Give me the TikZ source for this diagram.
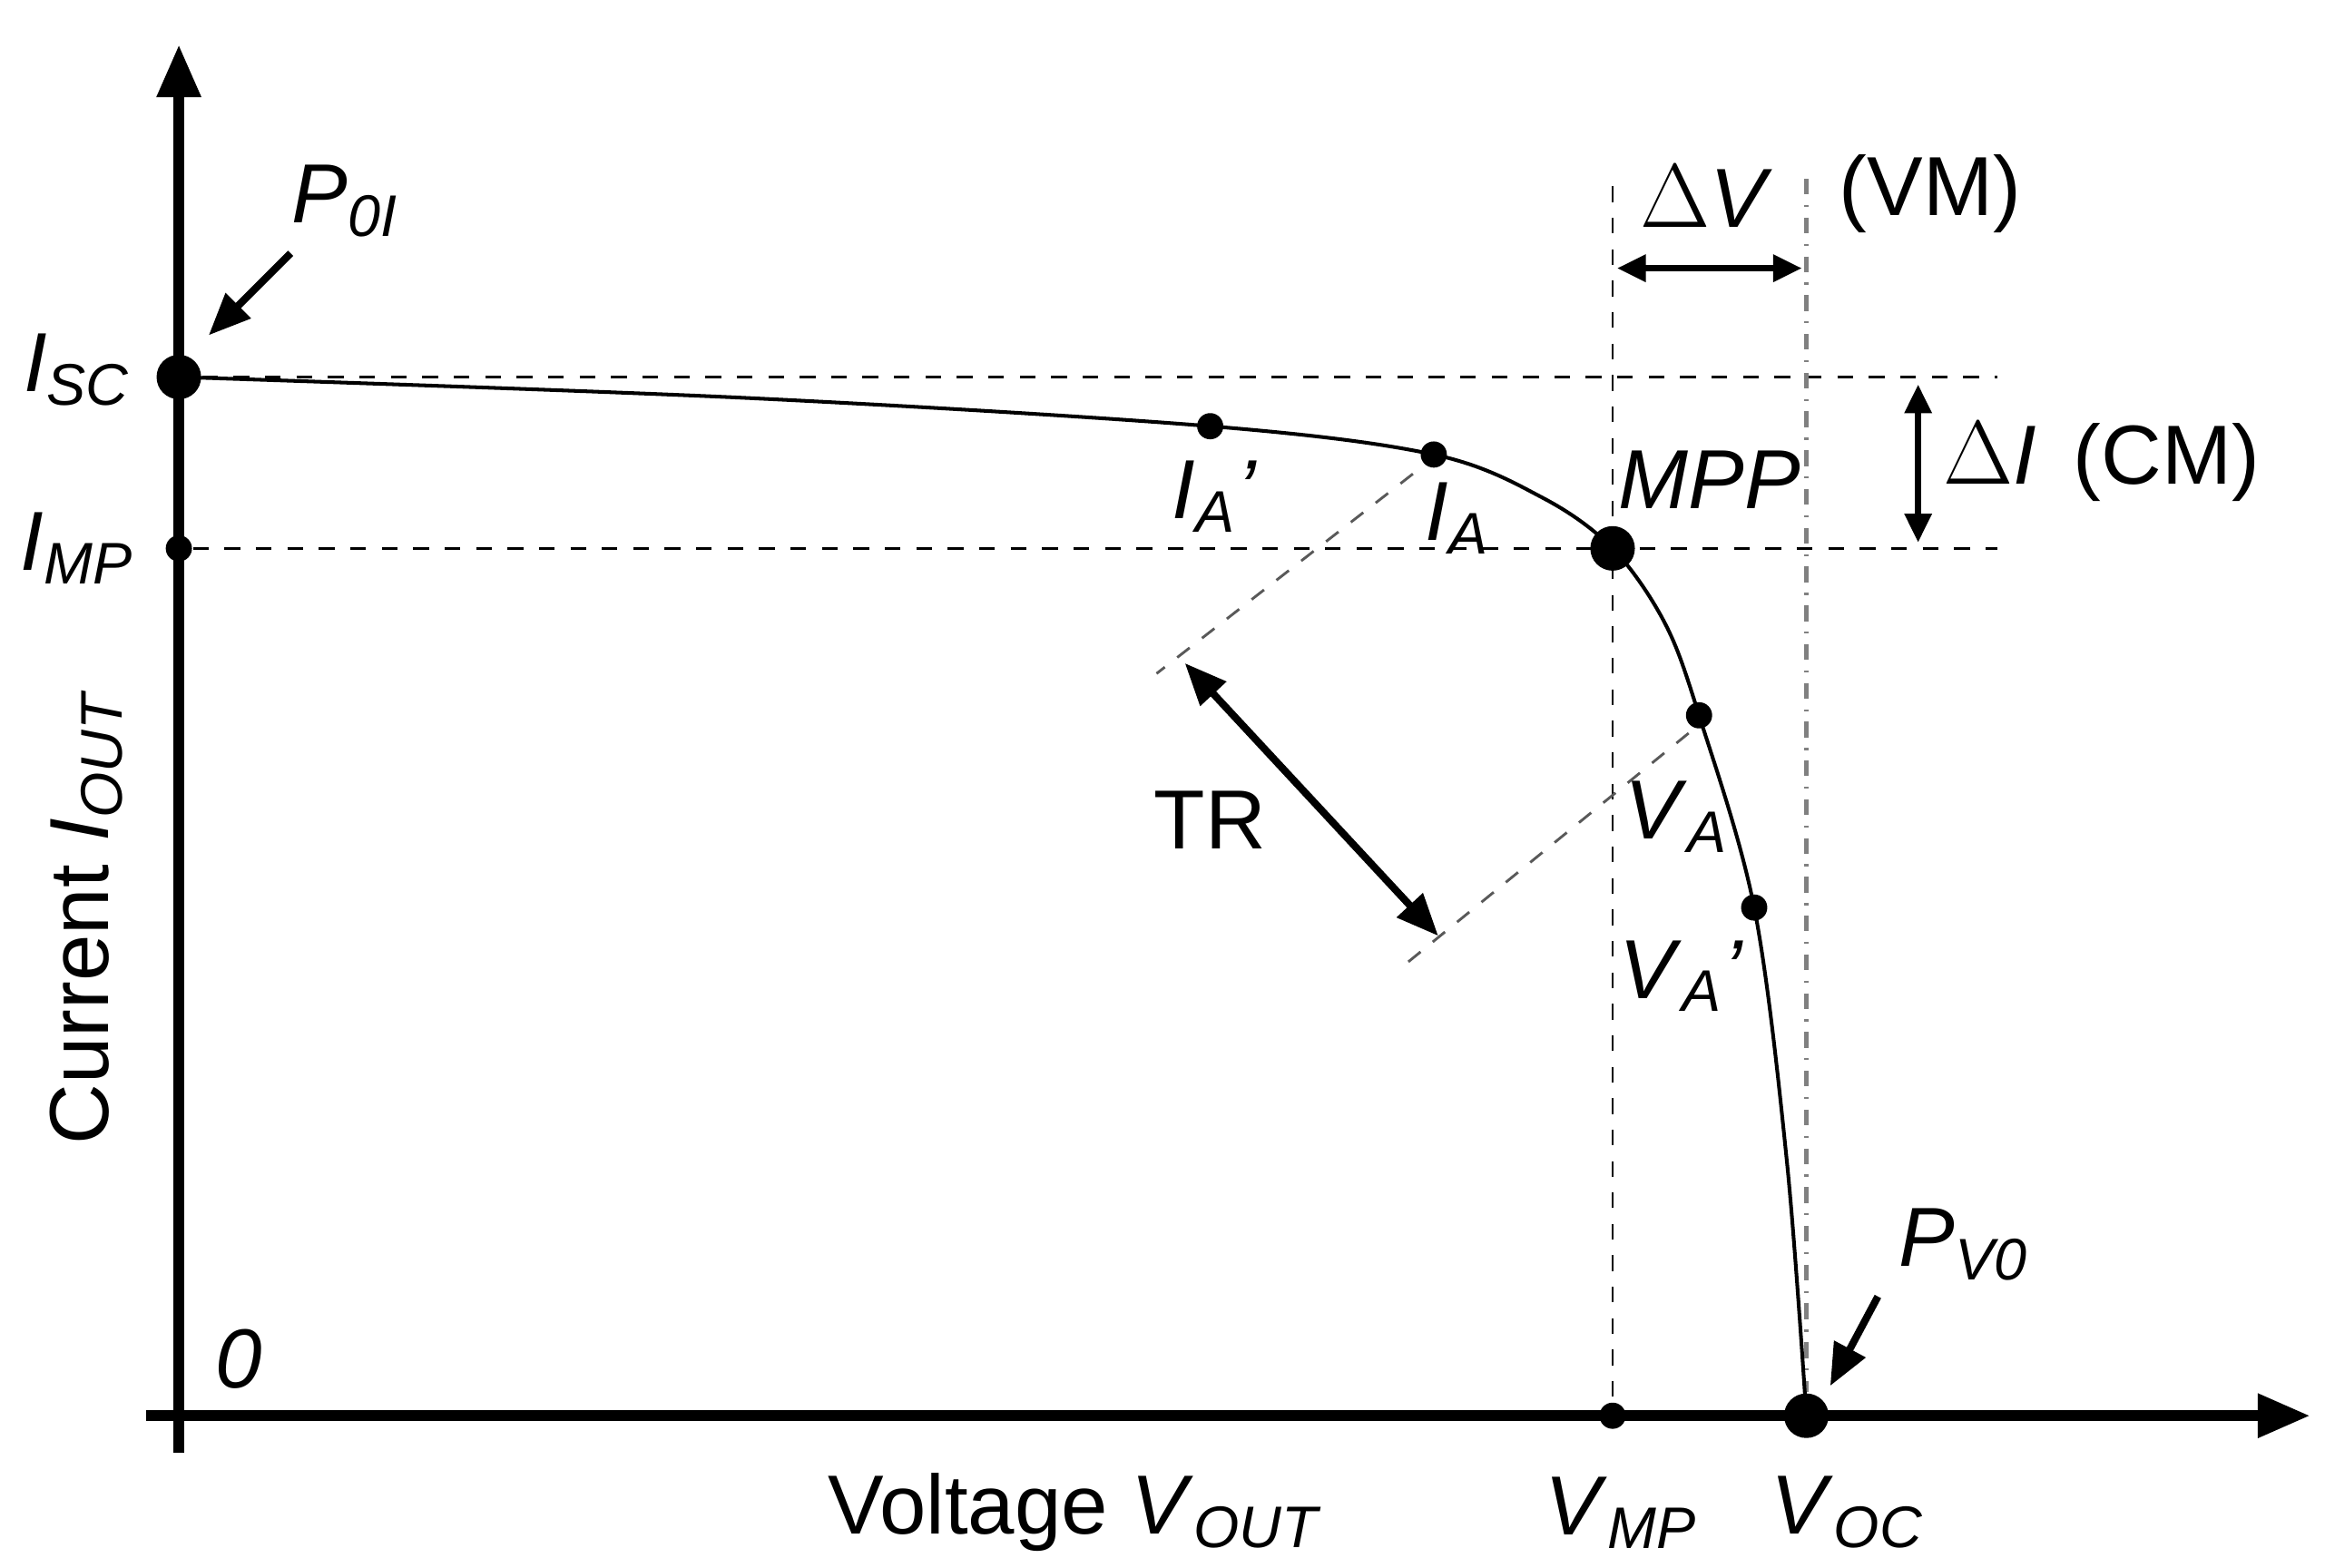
\documentclass[tikz,border=0pt]{standalone}
\usepackage{fontspec}
\setmainfont{Liberation Sans}
\usetikzlibrary{arrows.meta}
\begin{document}
\begin{tikzpicture}[x=0.01cm,y=-0.01cm,font=\fontsize{16}{18}\selectfont,
  ax/.style={line width=2pt,-{Triangle[length=10pt,width=8pt]}},
  dsh/.style={dashed,line width=0.5pt},
  bigdot/.style={circle,fill,inner sep=0pt,minimum size=8.5pt},
  smalldot/.style={circle,fill,inner sep=0pt,minimum size=5pt},
  arr/.style={line width=1.2pt,{Triangle[length=5.5pt,width=5pt]}-{Triangle[length=5.5pt,width=5pt]}}]
\useasboundingbox (0,0) rectangle (1560,1052);
\coordinate (yb) at (120,975); \coordinate (yt) at (120,30);
\coordinate (xl) at (98,950); \coordinate (xr) at (1550,950);
\draw[ax] (yb) -- (yt);
\draw[ax] (xl) -- (xr);
\coordinate (h1r) at (1340,253); \coordinate (h2r) at (1340,368);
\node[bigdot] (isc) at (120,253) {};
\node[smalldot] (imp) at (120,368) {};
\node[smalldot] (iap) at (812,286) {};
\node[smalldot] (ia) at (962,305) {};
\node[bigdot] (mpp) at (1082,368) {};
\node[smalldot] (va) at (1140,480) {};
\node[smalldot] (vap) at (1177,609) {};
\node[smalldot] (vmp) at (1082,950) {};
\node[bigdot] (voc) at (1212,950) {};
\draw[dsh] (isc) -- (h1r);
\draw[dsh] (imp) -- (h2r);
\coordinate (v1t) at (1082,125); \coordinate (v2t) at (1212,120);
\draw[dsh] (v1t) -- (vmp);
\draw[dash dot,gray,line width=0.8pt] (v2t) -- (voc);
\draw[line width=0.7pt] plot[smooth,tension=0.55] coordinates {(120,253) (500,267) (812,286) (962,305) (1035,334) (1082,368) (1117,418) (1140,480) (1177,609) (1199,780) (1212,950)};
\coordinate (dv1) at (1085,180); \coordinate (dv2) at (1209,180);
\draw[arr] (dv1) -- (dv2);
\coordinate (di1) at (1287,258); \coordinate (di2) at (1287,364);
\draw[arr] (di1) -- (di2);
\coordinate (t1a) at (948,318); \coordinate (t1b) at (776,452);
\coordinate (t2a) at (1133,492); \coordinate (t2b) at (943,647);
\draw[dashed,line width=0.5pt,gray!70!black] (t1a) -- (t1b);
\draw[dashed,line width=0.5pt,gray!70!black] (t2a) -- (t2b);
\coordinate (tr1) at (795,445); \coordinate (tr2) at (965,628);
\draw[line width=1.4pt,{Triangle[length=8pt,width=6.5pt]}-{Triangle[length=8pt,width=6.5pt]}] (tr1) -- (tr2);
\coordinate (p0a) at (195,170); \coordinate (p0b) at (140,225);
\draw[line width=1.4pt,-{Triangle[length=8pt,width=6.5pt]}] (p0a) -- (p0b);
\coordinate (pva) at (1260,870); \coordinate (pvb) at (1228,930);
\draw[line width=1.4pt,-{Triangle[length=8pt,width=6.5pt]}] (pva) -- (pvb);
\node (lp0) at (232,135) {\textit{P}\textsubscript{\textit{0I}}};
\node (lpv) at (1318,835) {\textit{P}\textsubscript{\textit{V0}}};
\node (lisc) at (52,248) {\textit{I}\textsubscript{\textit{SC}}};
\node (limp) at (52,368) {\textit{I}\textsubscript{\textit{MP}}};
\node (liap) at (815,333) {\textit{I}\textsubscript{\textit{A}}\textit{'}};
\node (lia) at (978,348) {\textit{I}\textsubscript{\textit{A}}};
\node (lmpp) at (1147,322) {\textit{MPP}};
\node (lva) at (1125,548) {\textit{V}\textsubscript{\textit{A}}};
\node (lvap) at (1128,655) {\textit{V}\textsubscript{\textit{A}}\textit{'}};
\node (ltr) at (812,550) {TR};
\node (l0) at (160,912) {\textit{0}};
\node (ldv) at (1145,132) {$\Delta$\textit{V}};
\node (lvm) at (1295,130) {(VM)};
\node (ldi) at (1410,310) {$\Delta$\textit{I}\, (CM)};
\node (lvo) at (722,1015) {Voltage \textit{V}\textsubscript{\textit{OUT}}};
\node (lvmp) at (1088,1015) {\textit{V}\textsubscript{\textit{MP}}};
\node (lvoc) at (1240,1015) {\textit{V}\textsubscript{\textit{OC}}};
\node[rotate=90] (lcur) at (58,615) {Current \textit{I}\textsubscript{\textit{OUT}}};
\end{tikzpicture}
\end{document}
